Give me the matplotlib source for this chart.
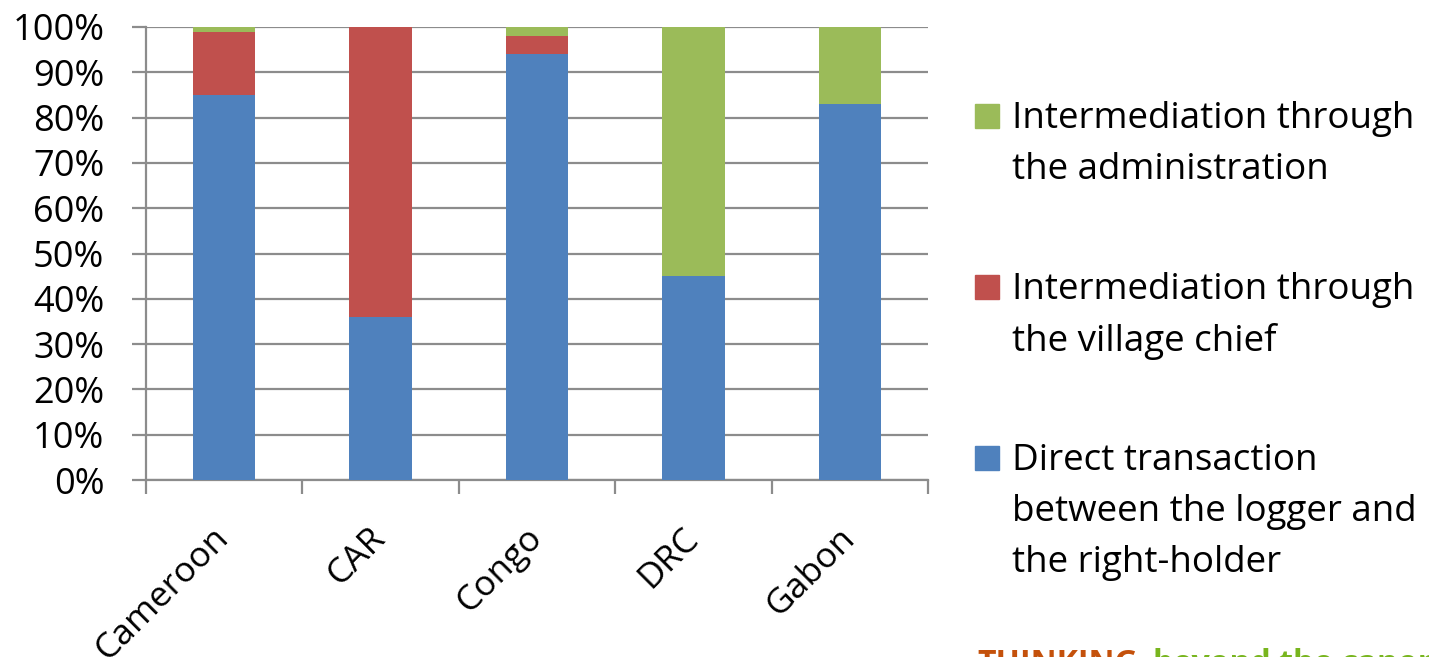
import matplotlib
matplotlib.use("Agg")
import matplotlib.pyplot as plt
import numpy as np
from matplotlib.patches import Rectangle

# data (percent of transactions)
countries = ['Cameroon', 'CAR', 'Congo', 'DRC', 'Gabon']
direct = [85, 36, 94, 45, 83]
village_chief = [14, 64, 4, 0, 0]
administration = [1, 0, 2, 55, 17]

legend_labels = [
    ['Intermediation through', 'the administration'],
    ['Intermediation through', 'the village chief'],
    ['Direct transaction', 'between the logger and', 'the right-holder'],
]

BLUE = '#4F81BD'
RED = '#C0504D'
GREEN = '#9BBB59'
GRID = '#8C8C8C'

plt.rcParams['font.family'] = ['Open Sans', 'DejaVu Sans']

W, H = 1429, 657
fig = plt.figure(figsize=(W / 100, H / 100), dpi=100)
ax = fig.add_axes([146 / W, 1 - 480 / H, (928 - 146) / W, (480 - 27) / H])

x = np.arange(len(countries))
width = 0.4
bottom2 = np.array(direct)
bottom3 = bottom2 + np.array(village_chief)
ax.bar(x, direct, width, color=BLUE, zorder=3)
ax.bar(x, village_chief, width, bottom=bottom2, color=RED, zorder=3)
ax.bar(x, administration, width, bottom=bottom3, color=GREEN, zorder=3)

ax.set_xlim(-0.5, len(countries) - 0.5)
ax.set_ylim(0, 100)
ax.set_yticks(np.arange(0, 101, 10))
ax.set_yticklabels(['%d%%' % v for v in range(0, 101, 10)], fontsize=26)
ax.yaxis.grid(True, color=GRID, linewidth=1.6, zorder=0)

# category boundaries get the tick marks, centers get the labels
ax.set_xticks(np.arange(-0.5, len(countries)), minor=False)
ax.set_xticklabels([])
ax.set_xticks(x, minor=True)
ax.set_xticklabels(countries, minor=True, fontsize=25.5, rotation=45,
                   ha='right', va='center', rotation_mode='anchor')
ax.tick_params(axis='x', which='major', length=10, width=1.6, color=GRID)
ax.tick_params(axis='x', which='minor', length=0, pad=38)
ax.tick_params(axis='y', length=10, width=1.6, color=GRID, pad=20)

for s in ['top', 'right']:
    ax.spines[s].set_visible(False)
for s in ['left', 'bottom']:
    ax.spines[s].set_color(GRID)
    ax.spines[s].set_linewidth(1.6)

# legend drawn by hand, green on top like the reference
leg_colors = [GREEN, RED, BLUE]
leg_tops = [116, 287, 458]
for lines, col, y0 in zip(legend_labels, leg_colors, leg_tops):
    fig.patches.append(Rectangle((975 / W, 1 - (y0 + 12) / H), 24 / W, 24 / H,
                                 transform=fig.transFigure, color=col))
    for i, line in enumerate(lines):
        fig.text(1012 / W, 1 - (y0 + 3 + i * 51) / H, line, fontsize=26.5,
                 va='center', ha='left')

# footer text cut off by the bottom edge, both words on one baseline
fig.text(977 / W, 1 - 673 / H, 'THINKING', fontsize=23, fontweight='bold',
         color='#C4510B', va='baseline', ha='left')
fig.text(1153 / W, 1 - 673 / H, 'beyond the canopy', fontsize=23,
         fontweight='bold', color='#78B51E', va='baseline', ha='left')

fig.savefig('out.png', dpi=100)
